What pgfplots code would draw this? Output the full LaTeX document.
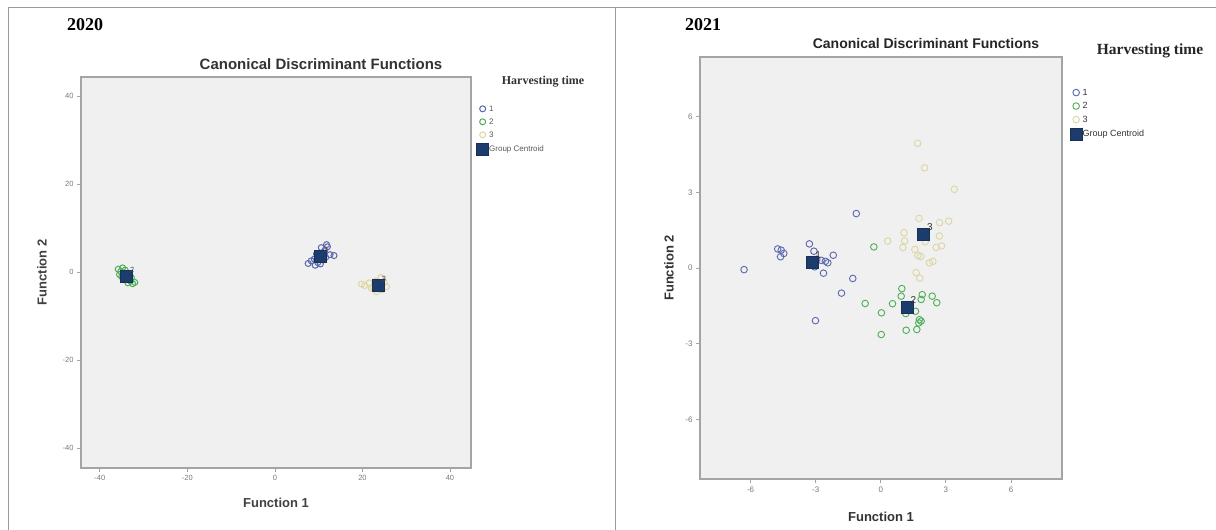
\documentclass[border=0pt]{standalone}
\usepackage{fontspec}
\setmainfont{Liberation Sans}
\newfontfamily\serifb{Liberation Serif}
\usepackage{pgfplots}
\pgfplotsset{compat=1.18}
\definecolor{gbg}{HTML}{F0F0F0}
\definecolor{framegray}{HTML}{A4A4A4}
\definecolor{tickgray}{HTML}{7A7A7A}
\definecolor{gblue}{HTML}{5A66AE}
\definecolor{ggreen}{HTML}{4DAF55}
\definecolor{gbeige}{HTML}{DDD6A2}
\definecolor{gcent}{HTML}{1B3C6C}
\definecolor{panel}{HTML}{9A9A9A}

\pgfplotsset{
  spss/.style={
    scale only axis,
    anchor=south west,
    axis background/.style={fill=gbg},
    axis line style={draw=framegray, line width=1.3pt},
    tick align=outside,
    xtick pos=left, ytick pos=left,
    major tick length=4pt,
    every tick/.style={draw=framegray, line width=0.8pt},
    ticklabel style={text=tickgray},
    /pgf/number format/assume math mode=true,
    legend cell align=left,
    legend image code/.code={\draw[mark repeat=2,mark phase=2,##1] plot coordinates {(0pt,0pt) (5pt,0pt) (10pt,0pt)};},
  },
}

\begin{document}
\begin{tikzpicture}[x=1pt,y=1pt]
\path[use as bounding box, fill=white] (0pt,0pt) rectangle (1216pt,530pt);
\draw[panel, line width=1pt] (8pt,0pt) -- (8pt,522pt) -- (1216pt,522pt);
\draw[panel, line width=1pt] (615pt,0pt) -- (615pt,522pt);

% ---------------- 2020 ----------------
\node[font=\serifb\bfseries\fontsize{18}{20}\selectfont] at (85pt,505pt) {2020};
\node[font=\bfseries\fontsize{15}{17}\selectfont, text=black!80] at (321pt,466pt) {Canonical Discriminant Functions};
\node[font=\serifb\bfseries\fontsize{12}{14}\selectfont, text=black!80] at (543pt,448pt) {Harvesting time};

\begin{axis}[spss,
  at={(81pt,62pt)}, width=390pt, height=391pt,
  xmin=-44.3, xmax=44.8, ymin=-44.5, ymax=44.4,
  xtick={-40,-20,0,20,40}, ytick={-40,-20,0,20,40},
  ticklabel style={font=\fontsize{7.5}{8}\selectfont},
  xlabel={Function 1}, ylabel={Function 2},
  xlabel style={font=\bfseries\fontsize{13}{14}\selectfont, text=black!75, at={(axis description cs:0.5,-0.0895)}, anchor=center},
  ylabel style={font=\bfseries\fontsize{13}{14}\selectfont, text=black!75, at={(axis description cs:-0.1,0.5)}, anchor=center},
  legend style={draw=none, fill=none, inner sep=0pt, at={(1.014,0.93)}, anchor=north west,
    font=\fontsize{8}{9}\selectfont, text=black!65, row sep=4.5pt,
    nodes={inner sep=0.5pt, text height=6pt, text depth=1.5pt}},
]
\addplot[only marks, mark=o, mark size=3pt, gblue, mark options={line width=1pt}] table {
7.6 2.0
8.3 2.6
9.0 3.0
9.8 2.2
10.2 3.5
10.8 4.4
11.4 5.0
12.0 5.8
11.0 2.8
12.6 4.0
13.5 3.8
9.5 4.2
10.6 5.6
11.8 6.3
9.2 1.6
10.4 1.9
11.6 3.4
};
\addplot[only marks, mark=o, mark size=3pt, ggreen, mark options={line width=1pt}] table {
-35.8 0.7
-35.2 0.2
-34.6 -0.3
-34.2 0.5
-33.5 -1.5
-33.0 -2.0
-32.5 -2.6
-32.0 -2.3
-34.8 1.0
-33.2 -0.8
-35.5 -0.5
-32.8 -1.2
-34.0 -1.6
-33.6 -2.4
-35.0 -1.0
};
\addplot[only marks, mark=o, mark size=3pt, gbeige, mark options={line width=1pt}] table {
19.8 -2.7
20.5 -3.0
21.5 -2.4
22.5 -3.5
23.0 -2.0
24.5 -4.0
24.0 -3.8
25.0 -2.3
24.2 -1.2
22.0 -3.6
25.5 -3.3
23.2 -4.4
};
\addplot[only marks, mark=square*, mark size=6pt, mark options={fill=gcent, draw=gcent!80!black},
  nodes near coords, point meta=explicit symbolic,
  nodes near coords style={anchor=south west, font=\fontsize{7.5}{8}\selectfont, text=black!70, inner sep=0.5pt, xshift=3pt, yshift=3pt}]
  table[meta=lab] {
x y lab
10.4 3.7 1
-33.9 -1.0 2
23.6 -2.9 3
};
\legend{1,2,3,Group Centroid}
\end{axis}

% ---------------- 2021 ----------------
\node[font=\serifb\bfseries\fontsize{18}{20}\selectfont] at (703pt,505pt) {2021};
\node[font=\bfseries\fontsize{14}{16}\selectfont, text=black!85] at (926pt,486pt) {Canonical Discriminant Functions};
\node[font=\serifb\bfseries\fontsize{15.5}{17}\selectfont, text=black!85] at (1150pt,479pt) {Harvesting time};

\begin{axis}[spss,
  at={(700pt,51pt)}, width=362pt, height=422pt,
  xmin=-8.33, xmax=8.35, ymin=-8.35, ymax=8.36,
  xtick={-6,-3,0,3,6}, ytick={-6,-3,0,3,6},
  ticklabel style={font=\fontsize{8}{9}\selectfont},
  xlabel={Function 1}, ylabel={Function 2},
  xlabel style={font=\bfseries\fontsize{13}{14}\selectfont, text=black!80, at={(axis description cs:0.5,-0.09)}, anchor=center},
  ylabel style={font=\bfseries\fontsize{13}{14}\selectfont, text=black!80, at={(axis description cs:-0.0856,0.5)}, anchor=center},
  legend style={draw=none, fill=none, inner sep=0pt, at={(1.022,0.928)}, anchor=north west,
    font=\fontsize{9}{10}\selectfont, text=black!80, row sep=3.5pt,
    nodes={inner sep=0.5pt, text height=7pt, text depth=2pt}},
]
\addplot[only marks, mark=o, mark size=3.3pt, gblue, mark options={line width=0.9pt}] table {
-6.30 -0.06
-4.75 0.76
-4.59 0.71
-4.47 0.58
-4.62 0.45
-3.29 0.96
-3.08 0.67
-2.95 0.35
-2.75 0.31
-2.55 0.27
-2.44 0.21
-3.05 0.05
-2.19 0.51
-2.64 -0.20
-1.13 2.16
-1.29 -0.41
-1.81 -0.99
-3.01 -2.08
};
\addplot[only marks, mark=o, mark size=3.3pt, ggreen, mark options={line width=0.9pt}] table {
-0.72 -1.40
-0.32 0.84
0.97 -0.81
0.94 -1.11
1.91 -1.05
1.86 -1.24
2.37 -1.11
2.58 -1.37
0.54 -1.41
0.03 -1.77
1.60 -1.71
1.78 -2.04
1.86 -2.10
1.75 -2.17
1.66 -2.43
1.17 -2.46
0.02 -2.63
1.15 -1.80
};
\addplot[only marks, mark=o, mark size=3.3pt, gbeige, mark options={line width=0.9pt}] table {
1.70 4.94
2.02 3.97
3.39 3.12
1.76 1.97
2.71 1.80
3.13 1.86
1.07 1.40
1.10 1.08
0.32 1.07
2.70 1.27
1.02 0.82
1.57 0.74
2.55 0.82
2.80 0.88
1.71 0.50
1.84 0.46
2.24 0.21
2.40 0.27
1.63 -0.18
1.80 -0.40
2.05 1.05
};
\addplot[only marks, mark=square*, mark size=6pt, mark options={fill=gcent, draw=gcent!80!black},
  nodes near coords, point meta=explicit symbolic,
  nodes near coords style={anchor=south west, font=\fontsize{10}{11}\selectfont, text=black!80, inner sep=0.5pt, xshift=3pt, yshift=3pt}]
  table[meta=lab] {
x y lab
-3.18 0.25 1
1.20 -1.55 2
1.97 1.35 3
};
\legend{1,2,3,Group Centroid}
\end{axis}
\end{tikzpicture}
\end{document}
